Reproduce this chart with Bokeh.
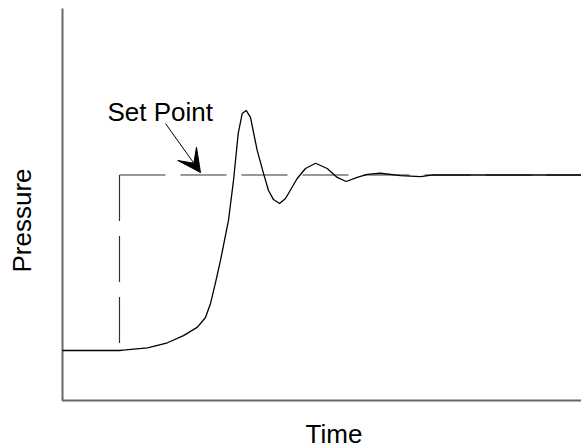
import math
from bokeh.plotting import figure
from bokeh.models import Range1d, Label, Arrow, VeeHead
from bokeh.embed import file_html
from bokeh.resources import INLINE

# Process response (time, pressure); baseline = 0, set point = 1
time = [0.0, 10.98, 12.14, 16.38, 20.23, 23.31, 26.01, 27.55, 28.52, 29.48,
        30.44, 31.98, 32.95, 33.85, 34.62, 35.39, 36.22, 37.51, 38.73, 39.69,
        40.66, 41.81, 42.97, 45.22, 46.82, 48.75, 51.00, 52.93, 54.66, 56.78,
        58.71, 61.27, 65.13, 68.98, 71.48, 76.69, 100.0]
pressure = [0.0, 0.0, 0.003, 0.015, 0.044, 0.085, 0.133, 0.188, 0.268, 0.387,
            0.513, 0.741, 0.969, 1.236, 1.350, 1.368, 1.328, 1.140, 1.009, 0.912,
            0.860, 0.838, 0.866, 0.980, 1.037, 1.067, 1.037, 0.986, 0.963, 0.986,
            1.003, 1.010, 0.997, 0.991, 1.001, 1.000, 1.000]

step_time = 10.98
set_point = 1.0
baseline = 0.0
time_end = 100.0

# axis extents (data units)
axis_x0 = 0.0
axis_x1 = 100.0
axis_y0 = -0.2849
axis_y1 = 1.9487

FONT = "Liberation Sans"

p = figure(width=581, height=448, output_backend="svg", toolbar_location=None,
           x_range=Range1d(-11.946, 100.0), y_range=Range1d(-0.5584, 1.9943),
           x_axis_location=None, y_axis_location=None,
           min_border=0)
p.outline_line_color = None
p.xgrid.visible = False
p.ygrid.visible = False
p.background_fill_color = "white"
p.border_fill_color = "white"

# axes lines (left and bottom)
p.line([axis_x0, axis_x0, axis_x1], [axis_y1, axis_y0, axis_y0],
       line_color="#666666", line_width=2)

# set point (dashed)
p.line([step_time, step_time], [set_point, baseline], line_color="#333333",
       line_width=1.2, line_dash="46 15")
p.line([step_time, time_end], [set_point, set_point], line_color="#333333",
       line_width=1.2, line_dash="46 15")

# response curve
p.line(time, pressure, line_color="black", line_width=1.3)

# annotation
p.add_layout(Arrow(x_start=19.85, y_start=1.293, x_end=26.59, y_end=1.014,
                   line_color="black", line_width=1,
                   end=VeeHead(size=23, fill_color="black", line_color="black")))
p.add_layout(Label(x=8.67, y=1.357, text="Set Point", text_font=FONT,
                   text_font_size="26px", text_color="black",
                   text_baseline="alphabetic", text_align="left"))

# axis titles
p.add_layout(Label(x=-7.71, y=0.741, text="Pressure", angle=math.pi / 2,
                   text_font=FONT, text_font_size="26px",
                   text_color="black", text_align="center",
                   text_baseline="middle"))
p.add_layout(Label(x=52.3, y=-0.473, text="Time", text_font=FONT,
                   text_font_size="26px", text_color="black",
                   text_align="center", text_baseline="alphabetic"))

open("out.html", "w").write(file_html(p, INLINE))
